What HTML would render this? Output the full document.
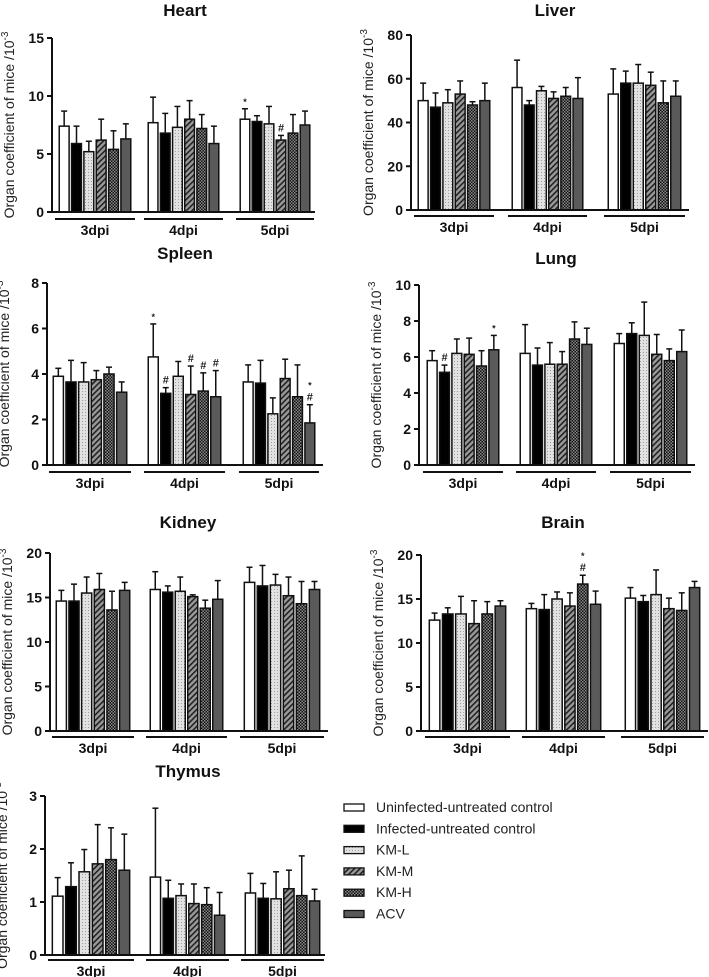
<!DOCTYPE html>
<html><head><meta charset="utf-8"><style>
body{margin:0;background:#fff;}
svg{display:block;font-family:"Liberation Sans",Arial,sans-serif;}
</style></head><body>
<svg id="c" width="709" height="977" viewBox="0 0 709 977">
<defs>
<pattern id="dots" width="3" height="3" patternUnits="userSpaceOnUse"><rect width="3" height="3" fill="#e2e2e2"/><rect x="1" y="1" width="0.8" height="0.8" fill="#777"/></pattern>
<pattern id="stripes" width="4" height="4" patternUnits="userSpaceOnUse" patternTransform="rotate(45)"><rect width="4" height="4" fill="#9a9a9a"/><rect width="1.6" height="4" fill="#222"/></pattern>
<pattern id="check" width="3" height="3" patternUnits="userSpaceOnUse"><rect width="3" height="3" fill="#111"/><rect width="1.5" height="1.5" fill="#888"/><rect x="1.5" y="1.5" width="1.5" height="1.5" fill="#888"/></pattern>
</defs>
</svg>
<script>
const groups = ["3dpi","4dpi","5dpi"];
const seriesNames = ["Uninfected-untreated control","Infected-untreated control","KM-L","KM-M","KM-H","ACV"];
const heartMean = [[7.4,5.9,5.2,6.2,5.4,6.3],[7.7,6.8,7.3,8.0,7.2,5.9],[8.0,7.8,7.6,6.2,6.8,7.5]];
const heartErr  = [[1.3,1.5,0.9,1.8,1.6,1.3],[2.2,1.7,1.8,1.6,1.2,1.5],[0.9,0.5,1.5,0.4,1.6,1.2]];
const heartTicks = [0,5,10,15];
const liverMean = [[50,47,49,53,48,50],[56,48,54.5,51,52,51],[53,58,58,57,49,52]];
const liverErr  = [[8,6.5,6,6,1.5,8],[12.5,2,2,3,4,9.5],[11.5,5.5,8.5,6,10,7]];
const liverTicks = [0,20,40,60,80];
const spleenMean = [[3.9,3.65,3.65,3.75,4.0,3.2],[4.75,3.15,3.9,3.1,3.25,3.0],[3.65,3.6,2.25,3.8,3.0,1.85]];
const spleenErr  = [[0.35,0.95,0.85,0.4,0.3,0.45],[1.45,0.25,0.65,1.25,0.8,1.15],[0.75,1.0,0.7,0.85,1.4,0.8]];
const spleenTicks = [0,2,4,6,8];
const lungMean = [[5.8,5.15,6.2,6.15,5.5,6.4],[6.2,5.55,5.6,5.6,7.0,6.7],[6.75,7.3,7.2,6.15,5.8,6.3]];
const lungErr  = [[0.55,0.4,0.8,0.9,0.85,0.8],[1.6,0.95,1.2,0.7,0.95,0.9],[0.55,0.6,1.85,1.1,0.65,1.2]];
const lungTicks = [0,2,4,6,8,10];
const kidneyMean = [[14.6,14.6,15.5,15.9,13.6,15.8],[15.9,15.6,15.7,15.1,13.8,14.8],[16.7,16.3,16.4,15.2,14.3,15.9]];
const kidneyErr  = [[1.2,1.9,1.8,1.8,2.1,0.9],[2.0,0.7,1.6,0.2,0.9,2.1],[1.7,2.3,1.2,2.1,2.5,0.9]];
const kidneyTicks = [0,5,10,15,20];
const brainMean = [[12.6,13.3,13.3,12.2,13.3,14.2],[13.9,13.8,15.0,14.2,16.7,14.4],[15.1,14.7,15.5,13.9,13.7,16.3]];
const brainErr  = [[0.8,0.7,2.0,2.6,1.4,0.6],[0.6,1.7,0.8,1.5,1.0,1.5],[1.2,0.7,2.8,1.2,2.0,0.7]];
const brainTicks = [0,5,10,15,20];
const thymusMean = [[1.11,1.29,1.57,1.72,1.8,1.6],[1.47,1.07,1.12,0.97,0.95,0.75],[1.17,1.07,1.06,1.25,1.12,1.02]];
const thymusErr  = [[0.35,0.45,0.42,0.74,0.6,0.68],[1.3,0.34,0.22,0.37,0.32,0.43],[0.37,0.28,0.51,0.35,0.75,0.22]];
const thymusTicks = [0,1,2,3];
const heartMarks = [[2,0,"*"],[2,3,"#"]];
const spleenMarks = [[1,0,"*"],[1,1,"#"],[1,3,"#"],[1,4,"#"],[1,5,"#"],[2,5,"#"],[2,5,"*"]];
const lungMarks = [[0,1,"#"],[0,5,"*"]];
const brainMarks = [[1,4,"#"],[1,4,"*"]];

const fills = ["#ffffff","#000000","url(#dots)","url(#stripes)","url(#check)","#5a5a5a"];
const NS = "http://www.w3.org/2000/svg";
const svg = document.getElementById('c');
function mk(tag, attrs, parent){const e=document.createElementNS(NS,tag);for(const k in attrs)e.setAttribute(k,attrs[k]);(parent||svg).appendChild(e);return e;}

const panels = [
 {key:"heart",title:"Heart",mean:heartMean,err:heartErr,ticks:heartTicks,marks:heartMarks,ax:52,yT:38,y0:212,xEnd:315,g:[[58,132],[147,220],[239,311]],ul:219,tx:185,ty:16},
 {key:"liver",title:"Liver",mean:liverMean,err:liverErr,ticks:liverTicks,marks:[],ax:411,yT:35,y0:210,xEnd:689,g:[[417,491],[511,584],[607,682]],ul:216,tx:555,ty:16},
 {key:"spleen",title:"Spleen",mean:spleenMean,err:spleenErr,ticks:spleenTicks,marks:spleenMarks,ax:47,yT:283,y0:465,xEnd:323,g:[[52,128],[147,222],[242,316]],ul:472,tx:185,ty:259},
 {key:"lung",title:"Lung",mean:lungMean,err:lungErr,ticks:lungTicks,marks:lungMarks,ax:419,yT:285,y0:465,xEnd:695,g:[[426,500],[519,593],[613,688]],ul:472,tx:556,ty:264},
 {key:"kidney",title:"Kidney",mean:kidneyMean,err:kidneyErr,ticks:kidneyTicks,marks:[],ax:50,yT:553,y0:731,xEnd:328,g:[[55,131],[149,224],[243,321]],ul:737,tx:188,ty:528},
 {key:"brain",title:"Brain",mean:brainMean,err:brainErr,ticks:brainTicks,marks:brainMarks,ax:421,yT:555,y0:731,xEnd:708,g:[[428,507],[525,602],[624,701]],ul:737,tx:563,ty:528},
 {key:"thymus",title:"Thymus",mean:thymusMean,err:thymusErr,ticks:thymusTicks,marks:[],ax:45,yT:796,y0:955,xEnd:325,g:[[51,131],[149,226],[244,321]],ul:960,tx:188,ty:777}
];

panels.forEach(p=>{
  const G = mk('g',{});
  
  
  const maxV = p.ticks[p.ticks.length-1];
  const yS = v => p.y0 - (v/maxV)*(p.y0-p.yT);
  const t = mk('text',{x:p.tx,y:p.ty,'text-anchor':'middle','font-size':17,'font-weight':'bold',fill:'#111'},G);
  t.textContent = p.title;
  
  
  const yc = (p.yT+p.y0)/2;
  const yt = mk('text',{x:p.ax-38,y:yc,'text-anchor':'middle','font-size':14,fill:'#222',transform:`rotate(-90 ${p.ax-38} ${yc})`},G);
  yt.innerHTML = 'Organ coefficient of mice /10<tspan dy="-6" font-size="10">-3</tspan>';
  
  
  p.mean.forEach((grp,gi)=>{
    const [l,r] = p.g[gi];
    const pitch = (r-l)/6, bw = pitch*0.8;
    grp.forEach((v,si)=>{
      const x = l + si*pitch + (pitch-bw)/2;
      const y = yS(v), ye = yS(v+p.err[gi][si]);
      const cx = x+bw/2;
      const eb = mk('line',{x1:cx,x2:cx,y1:y,y2:ye,stroke:'#111','stroke-width':1.5},G);
      
      
      mk('line',{x1:cx-3,x2:cx+3,y1:ye,y2:ye,stroke:'#111','stroke-width':1.5},G);
      const b = mk('rect',{x:x,y:y,width:bw,height:p.y0-y,fill:fills[si],stroke:'#111','stroke-width':1.5},G);
      
      
    });
    const ul = mk('line',{x1:l-3,x2:r+3,y1:p.ul,y2:p.ul,stroke:'#111','stroke-width':2},G);
    
    
    const gl = mk('text',{x:(l+r)/2,y:p.ul+16,'text-anchor':'middle','font-size':14,'font-weight':'bold',fill:'#111'},G);
    gl.textContent = groups[gi];
    
    
  });
  const stack = {};
  p.marks.forEach(m=>{
    const [gi,si,s] = m;
    const [l,r] = p.g[gi]; const pitch=(r-l)/6;
    const cx = l+si*pitch+pitch/2;
    const k = gi+'-'+si; stack[k]=(stack[k]||0);
    const top = yS(p.mean[gi][si]+p.err[gi][si]) - 4 - stack[k]*12;
    stack[k]++;
    const mt = mk('text',{x:cx,y:top,'text-anchor':'middle','font-size':s==='#'?11:9,'font-weight':'bold',fill:'#222'},G);
    mt.textContent = s;
    
    
  });
  const ya = mk('line',{x1:p.ax,x2:p.ax,y1:p.yT,y2:p.y0,stroke:'#111','stroke-width':2},G);
  
  
  const xa = mk('line',{x1:p.ax-1,x2:p.xEnd,y1:p.y0,y2:p.y0,stroke:'#111','stroke-width':2},G);
  
  
  p.ticks.forEach(tv=>{
    const y=yS(tv);
    mk('line',{x1:p.ax-5,x2:p.ax,y1:y,y2:y,stroke:'#111','stroke-width':2},G);
    const tl = mk('text',{x:p.ax-8,y:y+5,'text-anchor':'end','font-size':14,'font-weight':'bold',fill:'#111'},G);
    tl.textContent = tv;
    
    
  });
});

const L = mk('g',{});


seriesNames.forEach((n,i)=>{
  const y = 807 + i*21.3;
  const r = mk('rect',{x:344,y:y-3,width:20,height:7,fill:fills[i],stroke:'#111','stroke-width':1.3},L);
  
  
  const t = mk('text',{x:376,y:y+5,'font-size':14,fill:'#222'},L);
  t.textContent = n;
  
  
});
</script>
</body></html>
